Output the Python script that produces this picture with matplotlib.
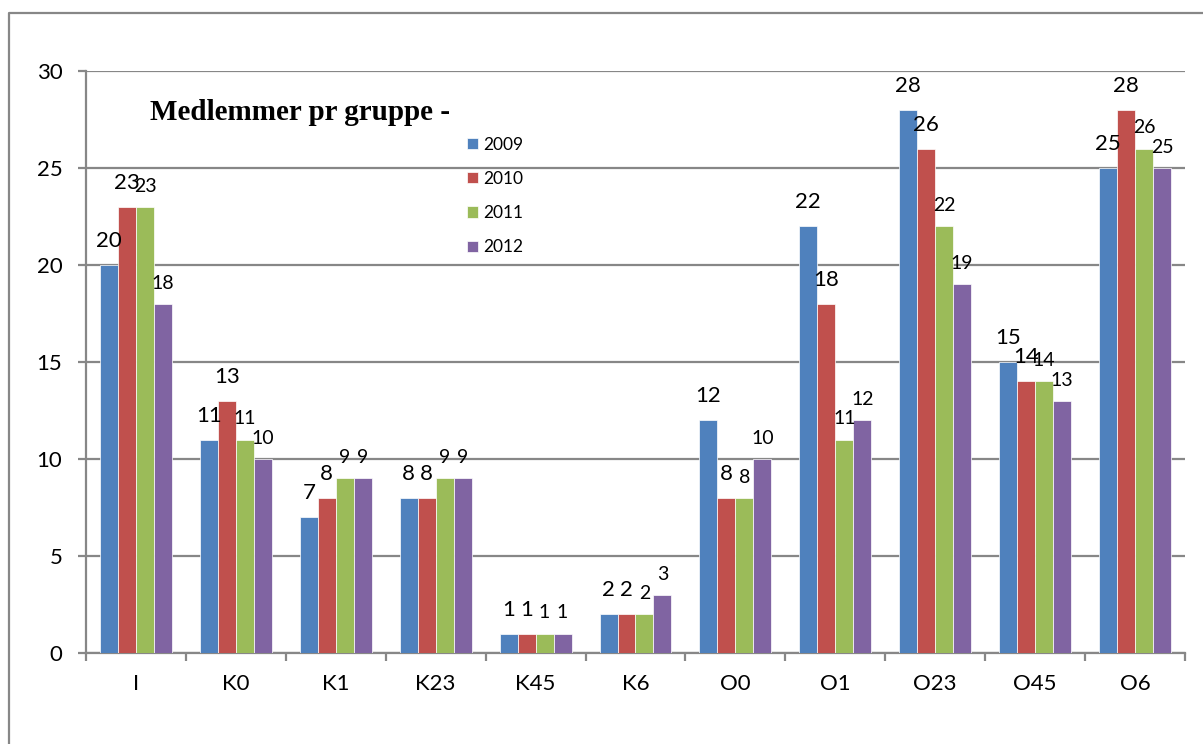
import numpy as np
import matplotlib
matplotlib.use('Agg')
import matplotlib.pyplot as plt
from matplotlib.lines import Line2D

plt.rcParams['font.family'] = ['Lato', 'DejaVu Sans']

# chart data
groups = ['I', 'K0', 'K1', 'K23', 'K45', 'K6', 'O0', 'O1', 'O23', 'O45', 'O6']
years = ['2009', '2010', '2011', '2012']
v2009 = [20, 11, 7, 8, 1, 2, 12, 22, 28, 15, 25]
v2010 = [23, 13, 8, 8, 1, 2, 8, 18, 26, 14, 28]
v2011 = [23, 11, 9, 9, 1, 2, 8, 11, 22, 14, 26]
v2012 = [18, 10, 9, 9, 1, 3, 10, 12, 19, 13, 25]
series = [v2009, v2010, v2011, v2012]

colors = ['#4F81BD', '#C0504D', '#9BBB59', '#8064A2']
label_size = [16, 16, 14, 14]   # data label font size per series
label_gap = [13, 13, 11, 11]    # gap above bar top, points
grey = '#878787'

fig = plt.figure(figsize=(12.03, 7.44), dpi=100)
ax = fig.add_axes([0.0715, 0.1223, 0.9135, 0.7823])

x = np.arange(len(groups))
w = 0.18
for i, (vals, c) in enumerate(zip(series, colors)):
    xs = x + (i - 1.5) * w
    bars = ax.bar(xs, vals, w, color=c, edgecolor='white', linewidth=0.5,
                  label=years[i], zorder=3)
    for b, v in zip(bars, vals):
        ax.annotate(str(v), (b.get_x() + w / 2, v), xytext=(0, label_gap[i]),
                    textcoords='offset points', ha='center', va='baseline',
                    fontsize=label_size[i], color='black', zorder=4)

ax.set_xlim(-0.5, len(groups) - 0.5)
ax.set_ylim(0, 30)
ax.set_yticks(np.arange(0, 31, 5))
ax.yaxis.grid(True, color=grey, linewidth=1.6, zorder=0)
ax.set_axisbelow(True)

ax.set_xticks(x)
ax.set_xticklabels(groups)
ax.set_xticks(np.arange(-0.5, len(groups)), minor=True)
ax.tick_params(axis='x', which='major', length=0, pad=15, labelsize=16)
ax.tick_params(axis='x', which='minor', length=6, width=1.6, color=grey)
ax.tick_params(axis='y', length=6, width=1.6, color=grey, pad=11, labelsize=16)

for s in ['top', 'right']:
    ax.spines[s].set_visible(False)
for s in ['left', 'bottom']:
    ax.spines[s].set_color(grey)
    ax.spines[s].set_linewidth(1.6)

ax.text(0.058, 0.928, 'Medlemmer pr gruppe -', transform=ax.transAxes,
        fontsize=21, fontweight='bold', family='Liberation Serif',
        va='center', ha='left')

ax.legend(loc='upper left', bbox_to_anchor=(0.347, 0.887), frameon=False,
          fontsize=12.5, handlelength=0.62, handleheight=0.62,
          handletextpad=0.3, labelspacing=1.05, borderpad=0, borderaxespad=0)

# outer chart frame (left and top edges)
fig.add_artist(Line2D([0.0075, 0.0075, 1.0], [0.0, 0.9825, 0.9825],
                      transform=fig.transFigure, color=grey, linewidth=1.6))

fig.savefig('out.png', dpi=100)
